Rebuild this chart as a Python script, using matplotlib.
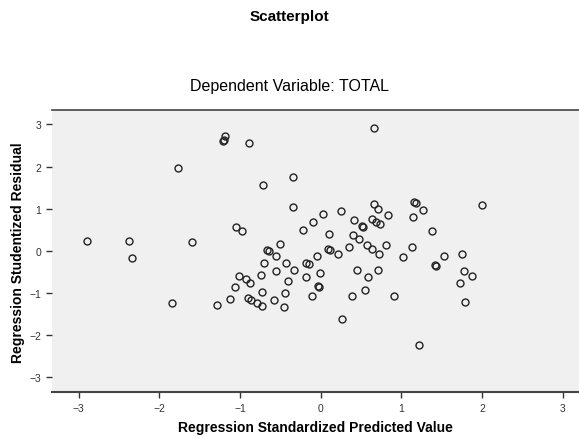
import matplotlib.pyplot as plt

plt.rcParams['font.family'] = ['Liberation Sans', 'DejaVu Sans']

# standardized predicted value vs studentized residual
pred = [-2.89, -2.38, -2.34, -1.77, -1.59, -1.84, -1.21, -1.18, -1.20, -0.89,
        -0.72, -0.34, -0.34, -1.05, -0.98, -0.50, -0.67, -0.64, -0.55, -0.70,
        -0.43, -0.33, -0.55, 0.03, -0.10, -0.22, 0.10, -0.04, 0.09, 0.25,
        0.66, 0.71, 0.83, 1.16, 1.18, 1.27, 1.14, 1.38, 0.41, 0.64,
        0.69, 0.73, 0.51, 0.53, 0.40, 0.47, 0.57, 0.64, 0.72, 0.81,
        1.13, 0.35, 0.12, 0.21, 1.02, 1.53, 0.66, 2.00, 1.75, -0.18,
        -0.15, -0.01, -0.18, 1.42, 1.43, 1.78, 1.88, 0.45, 0.59, 0.71,
        -0.41, -0.03, -0.02, -0.44, -0.11, -0.45, 0.55, 0.39, 0.91, 0.26,
        1.22, 1.73, 1.79, -0.74, -1.01, -0.93, -0.88, -1.06, -0.73, -1.12,
        -0.90, -0.86, -0.79, -0.73, -0.58, -1.29]
resid = [0.24, 0.24, -0.18, 1.96, 0.22, -1.24, 2.61, 2.72, 2.64, 2.55,
         1.57, 1.75, 1.03, 0.57, 0.47, 0.16, 0.03, -0.01, -0.12, -0.29,
         -0.30, -0.45, -0.49, 0.87, 0.68, 0.49, 0.41, -0.12, 0.04, 0.95,
         1.10, 1.00, 0.85, 1.16, 1.13, 0.97, 0.81, 0.46, 0.72, 0.76,
         0.69, 0.63, 0.60, 0.56, 0.37, 0.27, 0.14, 0.04, -0.08, 0.14,
         0.09, 0.08, 0.03, -0.08, -0.14, -0.12, 2.91, 1.09, -0.07, -0.28,
         -0.32, -0.52, -0.62, -0.33, -0.35, -0.47, -0.61, -0.45, -0.62, -0.45,
         -0.71, -0.83, -0.87, -1.01, -1.08, -1.34, -0.93, -1.07, -1.08, -1.61,
         -2.23, -0.77, -1.22, -0.58, -0.61, -0.67, -0.76, -0.87, -0.97, -1.15,
         -1.11, -1.16, -1.24, -1.32, -1.16, -1.29]

xticks = [-3, -2, -1, 0, 1, 2, 3]
yticks = [-3, -2, -1, 0, 1, 2, 3]

fig = plt.figure(figsize=(5.79, 4.39), dpi=100)
ax = fig.add_axes([0.0893, 0.104, 0.9107, 0.643])
ax.set_facecolor('#f0f0f0')

ax.plot(pred, resid, 'o', markerfacecolor='none', markeredgecolor='#222222',
        markersize=5, markeredgewidth=1.0)

ax.set_xlim(-3.333, 3.2)
ax.set_ylim(-3.36, 3.34)
ax.set_xticks(xticks)
ax.set_yticks(yticks)
ax.tick_params(labelsize=7.5, length=4, width=1, colors='#333333')

ax.spines['left'].set_visible(False)
ax.spines['right'].set_visible(False)
ax.spines['top'].set_color('#444444')
ax.spines['top'].set_linewidth(1.2)
ax.spines['bottom'].set_color('#444444')
ax.spines['bottom'].set_linewidth(1.5)

ax.set_xlabel('Regression Standardized Predicted Value', fontsize=10,
              fontweight='bold', labelpad=5)
ax.set_ylabel('Regression Studentized Residual', fontsize=10,
              fontweight='bold', labelpad=3)

fig.text(0.5, 0.961, 'Scatterplot', ha='center', va='center', fontsize=11,
         fontweight='bold')
fig.text(0.5, 0.802, 'Dependent Variable: TOTAL', ha='center', va='center',
         fontsize=11.5)

fig.savefig('out.png', dpi=100)
